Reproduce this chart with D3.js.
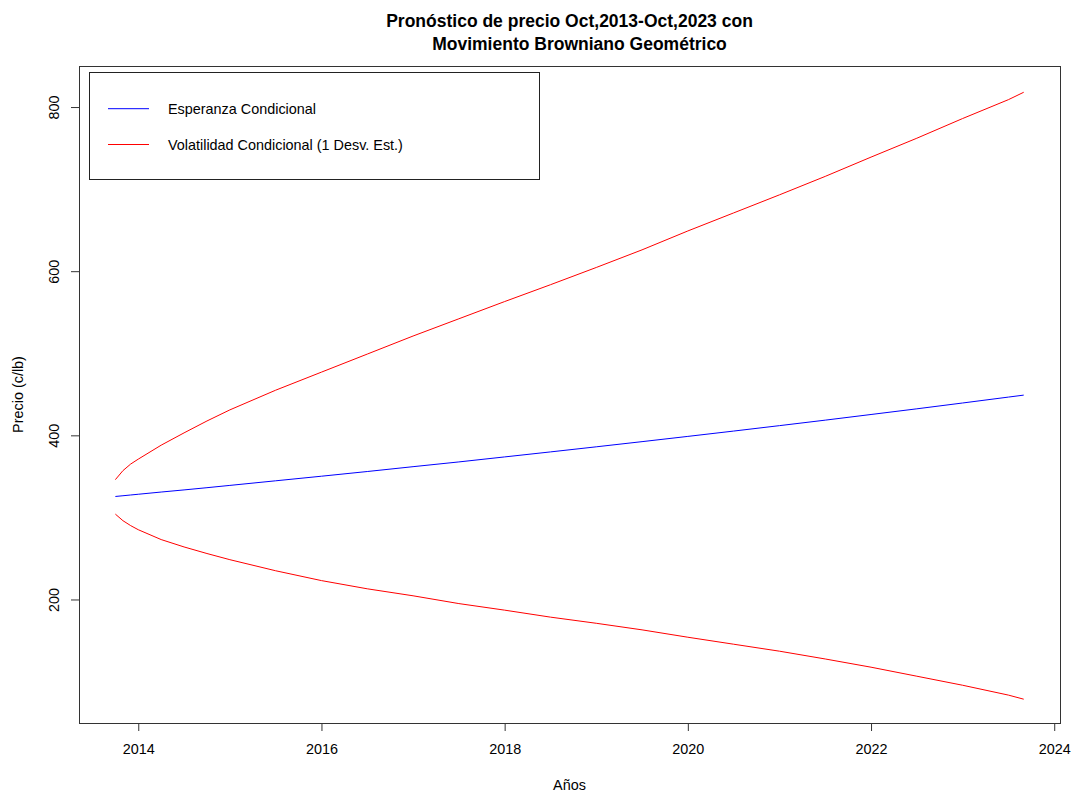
<!DOCTYPE html>
<html>
<head>
<meta charset="utf-8">
<script src="https://cdn.jsdelivr.net/npm/d3@7"></script>
<style>
  body { margin: 0; background: #fff; }
  svg { display: block; }
  text { font-family: "Liberation Sans", Arial, sans-serif; fill: #000; }
</style>
</head>
<body>
<svg id="chart" width="1078" height="795"></svg>
<script>
// Fechas (años decimales): Oct 2013 ... Sep 2023
const years = [2013.75, 2013.833, 2013.917, 2014.0, 2014.25, 2014.5, 2014.75, 2015.0,
  2015.5, 2016.0, 2016.5, 2017.0, 2017.5, 2018.0, 2018.5, 2019.0, 2019.5, 2020.0,
  2020.5, 2021.0, 2021.5, 2022.0, 2022.5, 2023.0, 2023.5, 2023.667];

// Esperanza condicional del precio (c/lb)
const esperanza = [325.5, 326.4, 327.3, 328.2, 330.9, 333.5, 336.2, 339.0,
  344.6, 350.2, 355.9, 361.8, 367.6, 373.7, 379.8, 386.0, 392.3, 398.7,
  405.2, 411.8, 418.5, 425.4, 432.3, 439.4, 446.6, 449.0];

// Esperanza + 1 desviación estándar
const bandaSuperior = [346, 357, 365, 371, 388, 403, 417.5, 431,
  455, 477, 499, 521, 542, 563, 583.5, 604.5, 626, 649,
  671, 693, 715.5, 739, 762, 786, 809, 818];

// Esperanza - 1 desviación estándar
const bandaInferior = [304, 296, 290, 285, 273, 264, 256, 248.5,
  235, 223, 213, 204.5, 195, 187, 178.5, 171, 163, 154,
  145.5, 137, 127.5, 117.5, 106.5, 95.5, 83.5, 78.5];

const xTicks = [2014, 2016, 2018, 2020, 2022, 2024];
const yTicks = [200, 400, 600, 800];

const titleLines = ["Pronóstico de precio Oct,2013-Oct,2023 con", "Movimiento Browniano Geométrico"];
const xLabel = "Años";
const yLabel = "Precio (c/lb)";
const legendLabels = ["Esperanza Condicional", "Volatilidad Condicional (1 Desv. Est.)"];
const legendColors = ["#0000ff", "#ff0000"];

const svg = d3.select("#chart");
svg.append("rect").attr("width", 1078).attr("height", 795).attr("fill", "#fff");

// Plot region
const plot = { left: 79, right: 1060, top: 66, bottom: 723 };
const x = d3.scaleLinear().domain([2013.353, 2024.063]).range([plot.left, plot.right]);
const y = d3.scaleLinear().domain([49.5, 850]).range([plot.bottom, plot.top]);

const axisColor = "#333";
const fontSize = 14.4;

// X axis
const gx = svg.append("g")
  .attr("transform", `translate(0,${plot.bottom})`)
  .call(d3.axisBottom(x).tickValues(xTicks).tickFormat(d3.format("d")).tickSize(8).tickPadding(13));
gx.select(".domain").remove();
gx.selectAll(".tick line").attr("stroke", axisColor);
gx.selectAll(".tick text").attr("font-size", fontSize).attr("font-family", null).attr("fill", "#000");

// Y axis with rotated labels
const gy = svg.append("g")
  .attr("transform", `translate(${plot.left},0)`)
  .call(d3.axisLeft(y).tickValues(yTicks).tickFormat(d3.format("d")).tickSize(8));
gy.select(".domain").remove();
gy.selectAll(".tick line").attr("stroke", axisColor);
gy.selectAll(".tick text")
  .attr("x", null).attr("dy", null)
  .attr("text-anchor", "middle")
  .attr("transform", "translate(-20.5,0) rotate(-90)")
  .attr("font-size", fontSize).attr("font-family", null).attr("fill", "#000");

// Plot box
svg.append("rect")
  .attr("x", plot.left + 0.5).attr("y", plot.top + 0.5)
  .attr("width", plot.right - plot.left).attr("height", plot.bottom - plot.top)
  .attr("fill", "none").attr("stroke", axisColor).attr("stroke-width", 1);

// Series
const line = d3.line().x((d, i) => x(years[i])).y(d => y(d));
const series = [
  { values: bandaSuperior, color: legendColors[1] },
  { values: bandaInferior, color: legendColors[1] },
  { values: esperanza, color: legendColors[0] }
];
svg.append("g").selectAll("path").data(series).join("path")
  .attr("d", d => line(d.values))
  .attr("fill", "none")
  .attr("stroke", d => d.color)
  .attr("stroke-width", 1)
  .attr("stroke-linejoin", "round");

// Legend
const legend = svg.append("g");
legend.append("rect")
  .attr("x", 89.5).attr("y", 72.5).attr("width", 450).attr("height", 107)
  .attr("fill", "#fff").attr("stroke", "#222").attr("stroke-width", 1);
const legendRows = [108.7, 144.5];
legendLabels.forEach((label, i) => {
  legend.append("line")
    .attr("x1", 108).attr("x2", 149)
    .attr("y1", legendRows[i]).attr("y2", legendRows[i])
    .attr("stroke", legendColors[i]).attr("stroke-width", 1);
  legend.append("text")
    .attr("x", 168).attr("y", legendRows[i] + 5)
    .attr("font-size", fontSize)
    .text(label);
});

// Title (second line carries leading spaces, so it sits slightly right of centre)
const cx = (plot.left + plot.right) / 2;
svg.append("g").selectAll("text").data(titleLines).join("text")
  .attr("x", (d, i) => cx + (i === 1 ? 10 : 0))
  .attr("y", (d, i) => 27 + i * 23)
  .attr("text-anchor", "middle")
  .attr("font-size", 17.5)
  .attr("font-weight", "bold")
  .text(d => d);

// Axis titles
svg.append("text")
  .attr("x", cx).attr("y", 790)
  .attr("text-anchor", "middle")
  .attr("font-size", fontSize)
  .text(xLabel);
svg.append("text")
  .attr("transform", `translate(23,${(plot.top + plot.bottom) / 2}) rotate(-90)`)
  .attr("text-anchor", "middle")
  .attr("font-size", fontSize)
  .text(yLabel);
</script>
</body>
</html>
